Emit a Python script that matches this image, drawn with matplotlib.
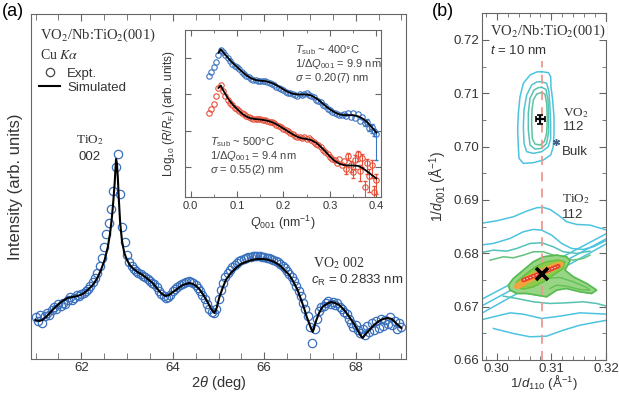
import numpy as np
import matplotlib
matplotlib.use("Agg")
import matplotlib.pyplot as plt
from matplotlib.lines import Line2D
from matplotlib.ticker import MultipleLocator, FormatStrFormatter

plt.rcParams['font.family'] = ['Liberation Sans', 'DejaVu Sans']
plt.rcParams['mathtext.fontset'] = 'custom'
plt.rcParams['mathtext.rm'] = 'Liberation Sans'
plt.rcParams['mathtext.it'] = 'Liberation Sans:italic'
plt.rcParams['mathtext.bf'] = 'Liberation Sans:bold'

# ---------------- (a) XRD 2theta-omega scan ----------------
# experimental points, 2theta from 61.00 with 0.05 deg step
tt_start = 61.0
tt_step = 0.05
i_expt = [4.2, 3.8, 4.4, 3.6, 4.3, 4.6, 4.4, 4.9, 5.2, 5.0,
          5.5, 5.3, 5.6, 5.5, 5.9, 6.2, 5.9, 6.1, 6.4, 6.3,
          6.5, 6.6, 6.8, 7.0, 7.3, 7.7, 8.1, 8.6, 9.3, 10.1,
          11.2, 12.5, 13.6, 15.0, 16.8, 19.2, 20.5, 16.5, 13.2, 11.7,
          10.4, 9.7, 9.3, 9.0, 8.8, 8.6, 8.5, 8.3, 8.2, 8.0,
          7.8, 7.6, 7.5, 7.2, 6.8, 6.5, 6.3, 6.1, 6.2, 6.4,
          6.8, 7.0, 7.2, 7.4, 7.5, 7.6, 7.7, 7.8, 7.7, 7.6,
          7.4, 7.1, 6.8, 6.4, 6.0, 5.5, 5.0, 4.7, 4.6, 5.0,
          6.0, 6.9, 7.6, 8.2, 8.6, 8.9, 9.2, 9.4, 9.6, 9.8,
          9.9, 10.0, 10.1, 10.2, 10.2, 10.3, 10.3, 10.3, 10.3, 10.2,
          10.2, 10.1, 10.1, 10.0, 9.9, 9.8, 9.7, 9.5, 9.3, 9.1,
          8.8, 8.5, 8.2, 7.8, 7.3, 6.8, 6.3, 5.6, 5.0, 4.3,
          3.2, 1.6, 3.0, 4.0, 4.8, 5.2, 5.3, 5.6, 5.8, 5.5,
          5.7, 5.4, 5.6, 5.2, 5.0, 4.7, 4.5, 4.0, 3.6, 3.2,
          3.4, 2.9, 2.6, 3.0, 2.4, 3.3, 2.7, 3.6, 2.9, 3.8,
          3.1, 4.0, 3.3, 3.9, 3.5, 4.2, 3.4, 3.8, 3.0, 3.6,
          3.2]
tt_expt = tt_start + tt_step * np.arange(len(i_expt))

tt_sim = [61.00, 61.08, 61.15, 61.25, 61.37, 61.48, 61.59, 61.70, 61.81, 61.92,
          62.03, 62.14, 62.25, 62.34, 62.43, 62.51, 62.58, 62.63, 62.67, 62.70,
          62.73, 62.76, 62.78, 62.80, 62.82, 62.85, 62.89, 62.94, 63.00, 63.06,
          63.12, 63.23, 63.34, 63.45, 63.56, 63.65, 63.74, 63.80, 63.85, 63.92,
          64.00, 64.07, 64.15, 64.22, 64.29, 64.36, 64.44, 64.51, 64.58, 64.67,
          64.76, 64.84, 64.91, 64.96, 65.02, 65.09, 65.16, 65.27, 65.38, 65.49,
          65.60, 65.72, 65.85, 65.98, 66.11, 66.22, 66.33, 66.44, 66.55, 66.64,
          66.73, 66.80, 66.87, 66.93, 66.98, 67.02, 67.06, 67.10, 67.14, 67.20,
          67.27, 67.36, 67.46, 67.55, 67.64, 67.75, 67.86, 67.95, 68.04, 68.10,
          68.15, 68.22, 68.30, 68.40, 68.51, 68.60, 68.70, 68.79, 68.88, 68.95,
          69.00]
i_sim = [3.9, 3.8, 3.9, 4.3, 4.9, 5.4, 5.8, 6.1, 6.2, 6.3,
         6.5, 6.9, 7.4, 8.0, 8.9, 9.9, 11.2, 12.6, 14.2, 15.8,
         17.6, 20.0, 19.5, 18.0, 16.0, 13.6, 11.8, 10.6, 9.9, 9.4,
         9.1, 8.7, 8.4, 8.0, 7.6, 7.1, 6.6, 6.4, 6.3, 6.4,
         6.7, 6.9, 7.2, 7.4, 7.5, 7.6, 7.5, 7.3, 7.0, 6.4,
         5.7, 5.0, 4.6, 5.1, 6.2, 7.1, 7.9, 8.6, 9.1, 9.5,
         9.7, 9.9, 10.0, 10.0, 9.9, 9.7, 9.4, 8.9, 8.4, 7.7,
         6.9, 6.0, 5.1, 4.2, 3.6, 3.1, 2.7, 3.3, 3.9, 4.6,
         5.2, 5.5, 5.7, 5.6, 5.4, 4.9, 4.2, 3.6, 2.9, 2.4,
         2.1, 2.5, 2.9, 3.4, 3.8, 4.0, 4.1, 4.0, 3.6, 3.3,
         3.1]

# ---------------- inset: XRR ----------------
q_start = 0.040
q_step = 0.005
r400 = [2.52, 2.62, 2.75, 2.90, 3.08, 3.22, 3.18, 3.08, 3.00, 2.92,
        2.85, 2.80, 2.75, 2.69, 2.62, 2.57, 2.52, 2.48, 2.44, 2.41,
        2.39, 2.38, 2.37, 2.37, 2.36, 2.34, 2.32, 2.29, 2.25, 2.22,
        2.19, 2.15, 2.11, 2.08, 2.05, 2.03, 2.00, 1.99, 1.97, 2.02,
        1.98, 2.00, 2.03, 1.98, 1.96, 1.92, 1.86, 1.82, 1.78, 1.72,
        1.68, 1.60, 1.58, 1.52, 1.50, 1.45, 1.44, 1.42, 1.46, 1.40,
        1.50, 1.38, 1.48, 1.35, 1.45, 1.28, 1.38, 1.20, 1.25, 1.08,
        1.10, 0.98, 0.90]
r500 = [1.48, 1.60, 1.75, 1.95, 2.18, 2.25, 2.10, 1.95, 1.85, 1.76,
        1.70, 1.64, 1.60, 1.55, 1.50, 1.45, 1.40, 1.37, 1.35, 1.33,
        1.32, 1.31, 1.31, 1.30, 1.29, 1.27, 1.25, 1.23, 1.20, 1.17,
        1.13, 1.10, 1.06, 1.02, 0.98, 0.94, 0.90, 0.86, 0.83, 0.82,
        0.80, 0.82, 0.77, 0.79, 0.73, 0.70, 0.64, 0.60, 0.55, 0.48,
        0.42, 0.35, 0.28, 0.22, 0.18, 0.12, 0.22, 0.05, 0.15, -0.05,
        0.30, 0.05, -0.15, 0.20, 0.35, -0.10, 0.25, -0.55, 0.10, -0.25,
        0.05, -0.70, -0.35]
q_expt = q_start + q_step * np.arange(len(r400))

# error bars on the last points (lower, upper)
r400_err_lo = [0.06, 0.10, 0.08, 0.15, 0.12, 0.70]
r400_err_hi = [0.05, 0.06, 0.05, 0.08, 0.06, 0.10]
r500_err_lo = [0.15, 0.12, 0.20, 0.15, 0.25, 0.20, 0.30, 0.25, 0.35, 0.30, 0.45, 0.35, 0.50, 0.40]
r500_err_hi = [0.10, 0.08, 0.12, 0.10, 0.12, 0.10, 0.15, 0.12, 0.15, 0.12, 0.18, 0.15, 0.18, 0.15]

q_fit = [0.060, 0.065, 0.070, 0.080, 0.090, 0.100, 0.110, 0.120, 0.130, 0.140,
         0.150, 0.160, 0.170, 0.180, 0.190, 0.200, 0.210, 0.220, 0.230, 0.240,
         0.250, 0.260, 0.270, 0.280, 0.290, 0.300, 0.310, 0.320, 0.330, 0.340,
         0.350, 0.360, 0.370, 0.380, 0.390, 0.400]
fit400 = [3.15, 3.25, 3.17, 3.02, 2.88, 2.76, 2.64, 2.53, 2.45, 2.40,
          2.38, 2.37, 2.34, 2.29, 2.22, 2.14, 2.07, 2.02, 2.00, 2.00,
          2.00, 1.97, 1.90, 1.80, 1.69, 1.59, 1.51, 1.45, 1.43, 1.43,
          1.43, 1.40, 1.34, 1.24, 1.10, 0.95]
fit500 = [2.18, 2.25, 2.12, 1.90, 1.73, 1.60, 1.48, 1.39, 1.34, 1.32,
          1.31, 1.29, 1.26, 1.21, 1.14, 1.06, 0.98, 0.90, 0.83, 0.79,
          0.77, 0.74, 0.67, 0.56, 0.43, 0.29, 0.17, 0.09, 0.05, 0.04,
          0.04, 0.03, -0.03, -0.12, -0.22, -0.32]

# ---------------- (b) reciprocal space map, contour traces ----------------
vo2_loops = [
    ([0.30822, 0.30944, 0.30987, 0.30993, 0.31023, 0.31048, 0.31048, 0.31035, 0.30987, 0.30852,
      0.30670, 0.30487, 0.30408, 0.30395, 0.30383, 0.30395, 0.30426, 0.30487, 0.30609, 0.30731],
     [0.71406, 0.71387, 0.71312, 0.71124, 0.70874, 0.70562, 0.70249, 0.69999, 0.69842, 0.69749,
      0.69699, 0.69686, 0.69780, 0.69999, 0.70311, 0.70624, 0.70937, 0.71187, 0.71343, 0.71400]),
    ([0.30822, 0.30913, 0.30956, 0.30974, 0.30987, 0.30987, 0.30944, 0.30822, 0.30670, 0.30548,
      0.30499, 0.30487, 0.30499, 0.30548, 0.30639, 0.30731],
     [0.71218, 0.71187, 0.71031, 0.70749, 0.70437, 0.70155, 0.69999, 0.69905, 0.69874, 0.69905,
      0.70061, 0.70374, 0.70687, 0.70968, 0.71156, 0.71212]),
    ([0.30822, 0.30901, 0.30938, 0.30950, 0.30950, 0.30913, 0.30822, 0.30700, 0.30609, 0.30578,
      0.30578, 0.30609, 0.30682, 0.30761],
     [0.71112, 0.71074, 0.70874, 0.70562, 0.70280, 0.70061, 0.69968, 0.69955, 0.70030, 0.70311,
      0.70624, 0.70906, 0.71062, 0.71106]),
    ([0.30822, 0.30883, 0.30913, 0.30926, 0.30913, 0.30871, 0.30792, 0.30700, 0.30651, 0.30639,
      0.30645, 0.30670, 0.30731],
     [0.71018, 0.70981, 0.70812, 0.70530, 0.70249, 0.70093, 0.70030, 0.70049, 0.70155, 0.70437,
      0.70687, 0.70874, 0.70987]),
]
vo2_colors = ['#4cc4df', '#50c4d2', '#55c2b6', '#5ec39c']

tio2_upper = [
    ([0.29695, 0.29999, 0.30304, 0.30548, 0.30731, 0.30852, 0.30974, 0.31127, 0.31279, 0.31462, 0.31706, 0.32017],
     [0.68560, 0.68610, 0.68685, 0.68792, 0.68854, 0.68861, 0.68823, 0.68717, 0.68592, 0.68542, 0.68529, 0.68435]),
    ([0.29695, 0.29938, 0.30243, 0.30487, 0.30670, 0.30822, 0.31005, 0.31188, 0.31371, 0.31584, 0.31767, 0.32017],
     [0.68154, 0.68185, 0.68279, 0.68404, 0.68448, 0.68435, 0.68341, 0.68185, 0.68091, 0.68073, 0.68123, 0.68248]),
    ([0.29695, 0.29938, 0.30182, 0.30365, 0.30609, 0.30822, 0.31035, 0.31218, 0.31462, 0.31706],
     [0.68010, 0.68060, 0.68041, 0.68091, 0.68185, 0.68198, 0.68123, 0.68029, 0.67998, 0.68041]),
    ([0.29878, 0.30121, 0.30304, 0.30487, 0.30670, 0.30852, 0.31035, 0.31218, 0.31401, 0.31584, 0.31706],
     [0.67872, 0.67935, 0.67916, 0.67966, 0.68029, 0.68029, 0.67966, 0.67904, 0.67872, 0.67904, 0.67966]),
]
tio2_upper_colors = ['#4cc4df', '#4cc4df', '#52c2b8', '#62c27a']

tio2_lower = [
    ([0.30121, 0.30365, 0.30670, 0.30974, 0.31279, 0.31584, 0.31828, 0.32017],
     [0.67197, 0.67154, 0.67091, 0.67060, 0.67072, 0.67091, 0.67060, 0.67009]),
    ([0.29695, 0.29938, 0.30243, 0.30487, 0.30822, 0.31157, 0.31523, 0.32017],
     [0.66747, 0.66809, 0.66884, 0.66859, 0.66779, 0.66822, 0.66884, 0.66859]),
    ([0.29938, 0.30304, 0.30609, 0.30913, 0.31218, 0.31523, 0.32017],
     [0.66591, 0.66497, 0.66435, 0.66447, 0.66559, 0.66653, 0.66747]),
]
tio2_lower_colors = ['#55c2b0', '#4cc4df', '#4cc4df']

streaks = [
    ([0.29695, 0.32017], [0.67122, 0.68373]),
    ([0.29695, 0.32017], [0.66997, 0.68279]),
    ([0.29695, 0.32017], [0.66859, 0.68185]),
]

g1_qx = [0.30243, 0.30213, 0.30304, 0.30487, 0.30670, 0.30852, 0.31096, 0.31279, 0.31340, 0.31249,
         0.31401, 0.31645, 0.31828, 0.31736, 0.31523, 0.31279, 0.31096, 0.30913, 0.30731, 0.30548, 0.30365]
g1_qz = [0.67310, 0.67403, 0.67528, 0.67685, 0.67841, 0.67935, 0.67966, 0.67935, 0.67860, 0.67685,
         0.67560, 0.67435, 0.67310, 0.67247, 0.67278, 0.67341, 0.67310, 0.67185, 0.67216, 0.67247, 0.67247]
g2_qx = [0.30335, 0.30365, 0.30548, 0.30731, 0.30913, 0.31127, 0.31249, 0.31218, 0.31035, 0.30852, 0.30670, 0.30487]
g2_qz = [0.67372, 0.67466, 0.67622, 0.67760, 0.67842, 0.67874, 0.67841, 0.67716, 0.67591, 0.67466, 0.67372, 0.67328]
g3_qx = [0.30913, 0.31157, 0.31401, 0.31645, 0.31706, 0.31523, 0.31279, 0.31096, 0.30974]
g3_qz = [0.67528, 0.67547, 0.67466, 0.67360, 0.67310, 0.67322, 0.67385, 0.67403, 0.67341]
orange_qx = [0.30353, 0.30548, 0.30792, 0.31035, 0.31188, 0.31218, 0.31066, 0.30852, 0.30609, 0.30395, 0.30322]
orange_qz = [0.67422, 0.67560, 0.67685, 0.67797, 0.67841, 0.67779, 0.67697, 0.67591, 0.67466, 0.67341, 0.67360]
core_qx = [0.30487, 0.31127]
core_qz = [0.67497, 0.67760]

vo2_peak = (0.3080, 0.7051)
vo2_err = (0.0009, 0.0009)
bulk_vo2 = (0.3108, 0.7008)
tio2_peak = (0.3082, 0.6762)
sub_qx = 0.3082
sub_line_qz = [0.660, 0.716]

txt = '#333333'
spine_c = '#666666'


def close(xs, ys):
    return list(xs) + [xs[0]], list(ys) + [ys[0]]


fig = plt.figure(figsize=(6.19, 3.93), dpi=100)

# ---------- panel (a) ----------
ax = fig.add_axes([31 / 619, 34 / 393, 375 / 619, 345 / 393])
ax.plot(tt_expt, i_expt, 'o', mfc='none', mec='#3b70bd', ms=6.0, mew=0.9, zorder=2)
ax.plot(tt_sim, i_sim, color='k', lw=1.5, zorder=3)
ax.set_xlim(60.9, 69.1)
ax.set_ylim(0, 34.5)
ax.set_yticks([])
ax.xaxis.set_major_locator(MultipleLocator(2))
ax.xaxis.set_minor_locator(MultipleLocator(0.5))
ax.tick_params(which='both', direction='in', top=True, colors=spine_c, labelcolor=txt,
               labelsize=9.5, pad=2.5)
ax.tick_params(which='major', length=5)
ax.tick_params(which='minor', length=4)
for s in ax.spines.values():
    s.set_color(spine_c)
ax.set_xlabel(r'2$\theta$ (deg)', fontsize=10.5, color=txt, labelpad=0)
ax.set_ylabel('Intensity (arb. units)', fontsize=12, color=txt, labelpad=6)

ax.text(0.024, 0.939, r'VO$_2$/Nb:TiO$_2$(001)', transform=ax.transAxes, fontsize=10.5,
        family='Liberation Serif', math_fontfamily='stix', color=txt, va='center')
ax.text(0.024, 0.881, r'Cu $K\alpha$', transform=ax.transAxes, fontsize=10,
        family='Liberation Serif', math_fontfamily='stix', color=txt, va='center')
handles = [Line2D([], [], ls='none', marker='o', mfc='none', mec='#444444', ms=6, mew=0.9),
           Line2D([], [], color='k', lw=1.5)]
ax.legend(handles, ['Expt.', 'Simulated'], loc='upper left', bbox_to_anchor=(0.022, 0.845),
          frameon=False, handlelength=1.6, handletextpad=0.5, labelspacing=0.15,
          borderaxespad=0, borderpad=0, fontsize=9.5, labelcolor=txt)
ax.text(0.157, 0.635, r'TiO$_2$', transform=ax.transAxes, fontsize=9.5, ha='center', va='center',
        family='Liberation Serif', math_fontfamily='stix', color=txt)
ax.text(0.157, 0.586, '002', transform=ax.transAxes, fontsize=9.5, ha='center', va='center', color=txt)
ax.text(0.752, 0.278, r'VO$_2$ 002', transform=ax.transAxes, fontsize=10, va='center',
        family='Liberation Serif', math_fontfamily='stix', color=txt)
ax.text(0.747, 0.229, r'$c_{\rm R}$ = 0.2833 nm', transform=ax.transAxes, fontsize=9.5,
        va='center', color=txt)

# ---------- inset ----------
axi = fig.add_axes([185 / 619, 196 / 393, 196 / 619, 167 / 393])
axi.plot(q_expt, r400, 'o', mfc='none', mec='#3d74c2', ms=3.9, mew=0.8, zorder=2)
axi.plot(q_expt, r500, 'o', mfc='none', mec='#e8503a', ms=3.9, mew=0.8, zorder=2)
n4 = len(r400_err_lo)
n5 = len(r500_err_lo)
axi.errorbar(q_expt[-n4:], r400[-n4:], yerr=[r400_err_lo, r400_err_hi], fmt='none',
             ecolor='#3d74c2', elinewidth=0.8, capsize=1.5, zorder=2)
axi.errorbar(q_expt[-n5:], r500[-n5:], yerr=[r500_err_lo, r500_err_hi], fmt='none',
             ecolor='#e8503a', elinewidth=0.8, capsize=1.5, zorder=2)
axi.plot(q_fit, fit400, color='k', lw=1.3, zorder=3)
axi.plot(q_fit, fit500, color='k', lw=1.3, zorder=3)
axi.set_xlim(-0.012, 0.41)
axi.set_ylim(-0.83, 3.78)
axi.xaxis.set_major_locator(MultipleLocator(0.1))
axi.xaxis.set_minor_locator(MultipleLocator(0.05))
axi.xaxis.set_major_formatter(FormatStrFormatter('%.1f'))
axi.yaxis.set_major_locator(MultipleLocator(1))
axi.set_yticklabels([])
axi.tick_params(which='both', direction='in', top=True, right=True, colors=spine_c,
                labelcolor=txt, labelsize=8, pad=3)
axi.tick_params(which='major', length=4)
axi.tick_params(which='minor', length=2.5)
axi.tick_params(axis='y', which='minor', length=0)
for s in axi.spines.values():
    s.set_color(spine_c)
axi.set_xlabel(r'$Q_{001}$ (nm$^{-1}$)', fontsize=9, color=txt, labelpad=2)
axi.set_ylabel(r'Log$_{10}$ ($R$/$R_{\rm F}$) (arb. units)', fontsize=8.5, color=txt, labelpad=3)
for yy, s in zip([0.880, 0.796, 0.713],
                 [r'$T_{\rm sub}$ ~ 400°C', r'1/Δ$Q_{001}$ = 9.9 nm', r'$\sigma$ = 0.20(7) nm']):
    axi.text(0.561, yy, s, transform=axi.transAxes, fontsize=8, color='#444444', va='center')
for yy, s in zip([0.329, 0.246, 0.162],
                 [r'$T_{\rm sub}$ ~ 500°C', r'1/Δ$Q_{001}$ = 9.4 nm', r'$\sigma$ = 0.55(2) nm']):
    axi.text(0.128, yy, s, transform=axi.transAxes, fontsize=8, color='#444444', va='center')

# ---------- panel (b) ----------
axb = fig.add_axes([482 / 619, 33 / 393, 124 / 619, 346.7 / 393])
for (xs, ys) in streaks:
    axb.plot(xs, ys, color='#4cc4df', lw=1.1, zorder=1)
for (xs, ys), c in zip(tio2_upper, tio2_upper_colors):
    axb.plot(xs, ys, color=c, lw=1.1, zorder=1)
for (xs, ys), c in zip(tio2_lower, tio2_lower_colors):
    axb.plot(xs, ys, color=c, lw=1.1, zorder=1)
gx, gz = close(g1_qx, g1_qz)
axb.fill(gx, gz, color='#98d584', zorder=2)
axb.plot(gx, gz, color='#55bb52', lw=1.2, zorder=2)
axb.plot(g3_qx, g3_qz, color='#62c055', lw=1.0, zorder=2)
gx, gz = close(g2_qx, g2_qz)
axb.fill(gx, gz, color='#8cca4a', zorder=2)
axb.plot(gx, gz, color='#66bf45', lw=1.0, zorder=2)
ox, oz = close(orange_qx, orange_qz)
axb.fill(ox, oz, color='#f4a23c', zorder=3)
axb.plot(core_qx, core_qz, color='#e4402a', lw=3.2, solid_capstyle='round', zorder=3)
axb.plot(core_qx, core_qz, color='white', lw=0.6, ls=(0, (2, 2)), zorder=3)
for (xs, ys), c in zip(vo2_loops, vo2_colors):
    cx, cz = close(xs, ys)
    axb.plot(cx, cz, color=c, lw=1.1, zorder=2)
axb.plot([sub_qx, sub_qx], sub_line_qz, color='#ea9a92', lw=1.3, ls=(0, (5, 4)), zorder=4)
axb.errorbar([vo2_peak[0]], [vo2_peak[1]], xerr=[vo2_err[0]], yerr=[vo2_err[1]], fmt='none',
             ecolor='k', elinewidth=1.6, capsize=2.2, capthick=1.2, zorder=5)
axb.plot([bulk_vo2[0]], [bulk_vo2[1]], ls='none', marker=(6, 2, 0), ms=5, mew=1.0,
         color='#3d5f8a', zorder=5)
axb.plot([tio2_peak[0]], [tio2_peak[1]], ls='none', marker='x', ms=8, mew=2.6, color='k', zorder=5)
axb.set_xlim(0.2973, 0.32)
axb.set_ylim(0.66, 0.725)
axb.xaxis.set_major_locator(MultipleLocator(0.01))
axb.xaxis.set_minor_locator(MultipleLocator(0.002))
axb.yaxis.set_major_locator(MultipleLocator(0.01))
axb.yaxis.set_minor_locator(MultipleLocator(0.005))
axb.xaxis.set_major_formatter(FormatStrFormatter('%.2f'))
axb.yaxis.set_major_formatter(FormatStrFormatter('%.2f'))
axb.tick_params(which='both', direction='in', top=True, right=True, colors=spine_c,
                labelcolor=txt, labelsize=9.5)
axb.tick_params(axis='y', pad=2)
axb.tick_params(axis='x', pad=2)
axb.tick_params(which='major', length=5)
axb.tick_params(which='minor', length=3)
for s in axb.spines.values():
    s.set_color(spine_c)
axb.set_xlabel(r'1/$d_{110}$ (Å$^{-1}$)', fontsize=9.5, color=txt, labelpad=-1)
axb.set_ylabel(r'1/$d_{001}$ (Å$^{-1}$)', fontsize=10, color=txt, labelpad=3)
axb.text(0.065, 0.949, r'VO$_2$/Nb:TiO$_2$(001)', transform=axb.transAxes, fontsize=10.5,
         family='Liberation Serif', math_fontfamily='stix', color=txt, va='center',
         bbox=dict(fc='white', ec='none', pad=0.5))
axb.text(0.065, 0.894, r'$t$ = 10 nm', transform=axb.transAxes, fontsize=9.5, color=txt, va='center')
axb.text(0.653, 0.712, r'VO$_2$', transform=axb.transAxes, fontsize=9.5, color=txt, va='center',
         family='Liberation Serif', math_fontfamily='stix')
axb.text(0.653, 0.672, '112', transform=axb.transAxes, fontsize=9.5, color=txt, va='center')
axb.text(0.645, 0.600, 'Bulk', transform=axb.transAxes, fontsize=9.5, color=txt, va='center')
axb.text(0.645, 0.464, r'TiO$_2$', transform=axb.transAxes, fontsize=9.5, color=txt, va='center',
         family='Liberation Serif', math_fontfamily='stix')
axb.text(0.645, 0.418, '112', transform=axb.transAxes, fontsize=9.5, color=txt, va='center')

fig.text(2 / 619, 1 - 12 / 393, '(a)', fontsize=13, va='center', color='k')
fig.text(432 / 619, 1 - 12 / 393, '(b)', fontsize=13, va='center', color='k')

fig.savefig('out.png', dpi=100)
